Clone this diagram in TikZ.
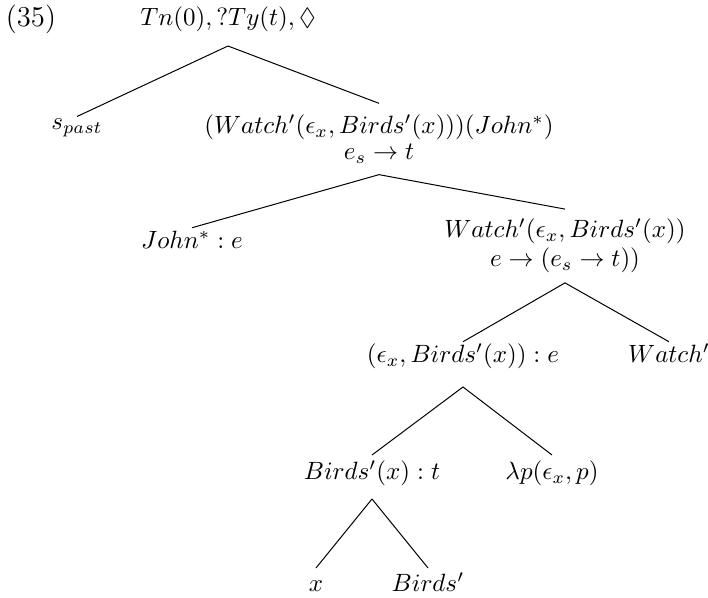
\documentclass[tikz,border=0pt]{standalone}
\usepackage{amsmath}
\usepackage{amssymb}
\usepackage{tikz}

\begin{document}
\begin{tikzpicture}[x=0.4pt, y=-0.4pt, every node/.style={inner sep=3pt, outer sep=0pt}]
    \useasboundingbox (0,0) rectangle (708,598);

    \node (num) at (31,19) {\fontsize{11.5}{13}\selectfont (35)};
    \node[anchor=base, text depth=5pt] (root) at (228,26) {$Tn(0), ?Ty(t), \Diamond$};

    \node[anchor=base, text height=2.4pt] (past) at (77,130) {$s_{past}$};
    \node[align=center, inner ysep=4.5pt] (pred) at (379,139) {$(Watch'(\epsilon_x, Birds'(x)))(John^*)$\\[-1.5pt] $e_s \rightarrow t$};

    \node[anchor=base, text height=5.5pt] (john) at (192,249) {$John^* : e$};
    \node[align=center, inner ysep=4pt] (vp) at (565,246) {$Watch'(\epsilon_x, Birds'(x))$\\[-0.5pt] $e \rightarrow (e_s \rightarrow t))$};

    \node[anchor=base, text height=5.5pt, text depth=6.6pt] (obj) at (463,363) {$(\epsilon_x, Birds'(x)) : e$};
    \node[anchor=base, text height=5.5pt] (verb) at (669,363) {$Watch'$};

    \node[anchor=base, text height=7pt, text depth=4.6pt] (restr) at (372,480) {$Birds'(x) : t$};
    \node[anchor=base, text height=7pt] (quant) at (552,480) {$\lambda p(\epsilon_x, p)$};

    \node[anchor=base, text height=6.6pt] (var) at (316,592) {$x$};
    \node[anchor=base, text height=6.6pt] (noun) at (428,592) {$Birds'$};

    \draw (root.south) -- (past.north);
    \draw (root.south) -- (pred.north);

    \draw (pred.south) -- (john.north);
    \draw (pred.south) -- (vp.north);

    \draw (vp.south) -- (obj.north);
    \draw (vp.south) -- (verb.north);

    \draw (obj.south) -- (restr.north);
    \draw (obj.south) -- (quant.north);

    \draw (restr.south) -- (var.north);
    \draw (restr.south) -- (noun.north);
\end{tikzpicture}
\end{document}
